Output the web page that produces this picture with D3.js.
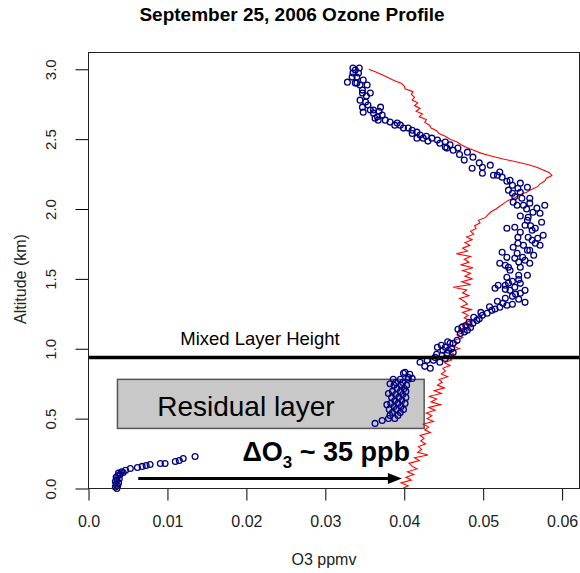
<!DOCTYPE html>
<html><head><meta charset="utf-8">
<script src="https://cdn.jsdelivr.net/npm/d3@7"></script>
<style>body{margin:0;background:#fff} svg{display:block;font-family:"Liberation Sans",Arial,sans-serif}</style>
</head><body><svg id="c" width="580" height="573"></svg>
<script>
// ---------- DATA ----------
const title = "September 25, 2006 Ozone Profile";
const xTicks = [0, 0.01, 0.02, 0.03, 0.04, 0.05, 0.06];
const xTickLabels = ["0.0", "0.01", "0.02", "0.03", "0.04", "0.05", "0.06"];
const yTicks = [0, 0.5, 1.0, 1.5, 2.0, 2.5, 3.0];
const yTickLabels = ["0.0", "0.5", "1.0", "1.5", "2.0", "2.5", "3.0"];

// red line profile (altitude km, O3 ppmv)
const lineAlt = [
 0.00,0.02,0.04,0.06,0.08,0.10,0.12,0.14,0.16,0.18,0.20,0.22,0.24,0.26,0.28,0.30,0.32,0.34,0.36,0.38,
 0.40,0.42,0.44,0.46,0.48,0.50,0.52,0.54,0.56,0.58,0.60,0.62,0.64,0.66,0.68,0.70,0.72,0.74,0.76,0.78,
 0.80,0.82,0.84,0.86,0.88,0.90,0.92,0.94,0.96,0.98,1.00,1.02,1.04,1.06,1.08,1.10,1.12,1.14,1.16,1.18,
 1.20,1.22,1.24,1.26,1.28,1.30,1.32,1.34,1.36,1.38,1.40,1.42,1.44,1.46,1.48,1.50,1.52,1.54,1.56,1.58,
 1.60,1.62,1.64,1.66,1.68,1.70,1.72,1.74,1.76,1.78,1.80,1.82,1.84,1.86,1.88,1.90,1.92,1.94,1.96,1.98,
 2.00,2.02,2.04,2.06,2.08,2.10,2.12,2.14,2.16,2.18,2.20,2.22,2.24,2.26,2.28,2.30,2.32,2.34,2.36,2.38,
 2.40,2.42,2.44,2.46,2.48,2.50,2.52,2.54,2.56,2.58,2.60,2.62,2.64,2.66,2.68,2.70,2.72,2.74,2.76,2.78,
 2.80,2.82,2.84,2.86,2.88,2.90,2.92,2.94,2.96,2.98,3.00];
const lineO3 = [
 0.0398,0.0405,0.0396,0.0409,0.0402,0.0412,0.0404,0.0416,0.0410,0.0406,0.0419,0.0413,0.0430,0.0417,0.0422,0.0418,0.0427,0.0421,0.0425,0.0420,
 0.0433,0.0426,0.0431,0.0424,0.0437,0.0429,0.0435,0.0428,0.0439,0.0431,0.0446,0.0434,0.0441,0.0432,0.0447,0.0438,0.0451,0.0442,0.0448,0.0444,
 0.0455,0.0447,0.0452,0.0449,0.0458,0.0451,0.0460,0.0455,0.0463,0.0458,0.0470,0.0462,0.0468,0.0463,0.0474,0.0467,0.0476,0.0470,0.0486,0.0473,
 0.0484,0.0476,0.0481,0.0474,0.0485,0.0472,0.0480,0.0476,0.0470,0.0482,0.0474,0.0479,0.0462,0.0484,0.0473,0.0486,0.0477,0.0484,0.0474,0.0487,
 0.0472,0.0482,0.0476,0.0484,0.0466,0.0480,0.0474,0.0483,0.0477,0.0486,0.0479,0.0488,0.0484,0.0491,0.0489,0.0496,0.0494,0.0503,0.0506,0.0510,
 0.0516,0.0521,0.0526,0.0531,0.0540,0.0545,0.0555,0.0561,0.0569,0.0572,0.0578,0.0580,0.0587,0.0584,0.0576,0.0567,0.0555,0.0540,0.0524,0.0510,
 0.0497,0.0488,0.0479,0.0472,0.0467,0.0458,0.0452,0.0444,0.0441,0.0434,0.0432,0.0426,0.0428,0.0419,0.0423,0.0415,0.0420,0.0413,0.0417,0.0410,
 0.0413,0.0409,0.0411,0.0401,0.0400,0.0396,0.0387,0.0380,0.0372,0.0364,0.0355];

// blue circles (altitude km, O3 ppmv)
const ptAlt = [
 0.000,0.010,0.020,0.030,0.040,0.050,0.060,0.070,0.080,0.090,0.100,0.110,0.120,
 0.115,0.130,0.143,0.150,0.158,0.165,0.172,0.179,0.179,0.193,0.200,0.215,0.229,
 0.466,0.487,0.501,0.501,0.523,0.523,0.544,0.544,0.566,0.566,0.566,0.587,0.587,0.609,0.609,0.609,0.630,0.630,0.652,0.652,0.652,0.673,0.673,0.695,0.695,0.695,0.716,0.716,0.738,0.738,0.738,0.759,0.759,0.781,0.781,0.781,0.600,0.680,0.750,
 0.795,0.788,0.817,0.824,0.831,0.860,0.874,0.903,0.917,0.917,0.903,0.938,0.953,0.967,0.974,0.989,0.989,1.010,1.010,1.039,1.039,1.060,0.960,1.000,1.025,1.050,0.930,
 1.110,1.132,1.153,1.153,1.182,1.203,1.239,1.254,1.275,1.297,1.311,1.325,1.332,1.354,1.361,1.375,1.397,1.418,1.418,1.433,1.440,1.454,1.454,1.468,1.483,
 1.120,1.140,1.165,1.190,1.215,1.225,1.260,1.285,1.300,1.318,1.340,1.390,1.425,1.470,1.495,
 1.511,1.526,1.526,1.562,1.583,1.583,1.597,1.612,1.612,1.633,1.647,1.654,1.654,1.669,1.683,1.691,1.705,1.705,1.620,
 1.726,1.741,1.755,1.755,1.777,1.798,1.798,1.812,1.834,1.848,1.862,1.862,1.870,1.884,1.740,1.790,1.880,
 1.905,1.920,1.941,1.970,1.977,2.006,2.027,2.027,2.027,2.042,2.049,2.077,2.077,1.950,2.000,2.090,
 2.113,2.120,2.149,2.156,2.170,2.185,2.199,2.206,2.228,2.242,2.242,2.256,2.264,2.292,2.299,2.314,2.135,
 2.371,2.407,2.436,2.436,2.443,2.471,2.479,2.493,2.507,2.507,2.507,2.529,2.550,2.330,2.350,2.390,2.420,2.460,2.486,2.520,2.540,
 2.564,2.579,2.579,2.600,2.600,2.622,2.636,2.636,2.650,2.672,2.729,2.615,2.660,2.700,
 2.686,2.708,2.708,2.693,2.744,2.729,2.765,2.779,2.808,2.830,2.830,2.851,
 2.887,2.923,2.901,2.908,2.901,2.887,2.944,2.944,2.973,2.973,3.009,3.009,2.994];
const ptO3 = [
 0.0036,0.0034,0.0037,0.0035,0.0038,0.0034,0.0036,0.0039,0.0035,0.0037,0.0040,0.0038,0.0042,
 0.0044,0.0047,0.0053,0.0062,0.0068,0.0073,0.0078,0.0091,0.0097,0.0110,0.0115,0.0120,0.0135,
 0.0363,0.0372,0.0380,0.0388,0.0382,0.0392,0.0385,0.0395,0.0381,0.0390,0.0399,0.0387,0.0396,0.0383,0.0392,0.0401,0.0388,0.0397,0.0384,0.0393,0.0402,0.0389,0.0398,0.0385,0.0395,0.0402,0.0391,0.0400,0.0387,0.0396,0.0403,0.0389,0.0398,0.0386,0.0395,0.0405,0.0378,0.0380,0.0382,
 0.0405,0.0410,0.0407,0.0399,0.0401,0.0433,0.0426,0.0420,0.0429,0.0437,0.0445,0.0439,0.0448,0.0454,0.0462,0.0449,0.0456,0.0442,0.0452,0.0458,0.0462,0.0467,0.0441,0.0460,0.0447,0.0455,0.0452,
 0.0471,0.0480,0.0473,0.0484,0.0487,0.0492,0.0499,0.0505,0.0511,0.0521,0.0530,0.0525,0.0553,0.0545,0.0528,0.0537,0.0547,0.0534,0.0553,0.0515,0.0540,0.0528,0.0519,0.0547,0.0537,
 0.0476,0.0468,0.0478,0.0482,0.0495,0.0488,0.0497,0.0515,0.0508,0.0537,0.0518,0.0541,0.0528,0.0532,0.0545,
 0.0530,0.0545,0.0556,0.0534,0.0547,0.0532,0.0528,0.0521,0.0559,0.0553,0.0540,0.0550,0.0530,0.0564,0.0543,0.0524,0.0556,0.0559,0.0545,
 0.0538,0.0572,0.0544,0.0566,0.0562,0.0557,0.0544,0.0576,0.0547,0.0562,0.0566,0.0530,0.0540,0.0553,0.0551,0.0569,0.0560,
 0.0574,0.0556,0.0557,0.0572,0.0563,0.0568,0.0543,0.0551,0.0578,0.0559,0.0538,0.0549,0.0559,0.0547,0.0555,0.0540,
 0.0537,0.0547,0.0544,0.0556,0.0537,0.0547,0.0530,0.0534,0.0524,0.0513,0.0518,0.0499,0.0521,0.0486,0.0499,0.0509,0.0532,
 0.0487,0.0480,0.0468,0.0454,0.0452,0.0445,0.0452,0.0442,0.0435,0.0424,0.0416,0.0420,0.0416,0.0495,0.0476,0.0470,0.0462,0.0458,0.0430,0.0428,0.0410,
 0.0410,0.0405,0.0399,0.0395,0.0388,0.0382,0.0376,0.0367,0.0363,0.0372,0.0370,0.0391,0.0366,0.0368,
 0.0361,0.0361,0.0357,0.0348,0.0354,0.0347,0.0351,0.0344,0.0352,0.0347,0.0357,0.0347,
 0.0353,0.0348,0.0340,0.0328,0.0338,0.0344,0.0334,0.0340,0.0335,0.0342,0.0335,0.0343,0.0338];

// annotations (data units)
const mixedLayerHeight = 0.938;
const residualBox = {x0: 0.00367, x1: 0.04252, y0: 0.430, y1: 0.781};
const arrowSpan = {x0: 0.0063, x1: 0.0397, y: 0.072};

// ---------- DRAW ----------
const svg = d3.select("#c");
const x = d3.scaleLinear().domain([0, 0.0622]).range([88.5, 579.5]);
const y = d3.scaleLinear().domain([0, 3.12]).range([488.5, 52.5]);

svg.append("text").attr("x", 292).attr("y", 21).attr("text-anchor", "middle")
  .attr("font-weight", "bold").attr("font-size", 19).attr("fill", "#000").text(title);

// residual layer box
svg.append("rect")
  .attr("x", x(residualBox.x0)).attr("y", y(residualBox.y1))
  .attr("width", x(residualBox.x1) - x(residualBox.x0))
  .attr("height", y(residualBox.y0) - y(residualBox.y1))
  .attr("fill", "#c8c8c8").attr("stroke", "#555").attr("stroke-width", 1.5);
svg.append("text").attr("x", x(0.0087)).attr("y", y(0.516))
  .attr("font-size", 28).attr("fill", "#000").text("Residual layer");

// red line
const pts = lineAlt.map((a, i) => [lineO3[i], a]);
svg.append("path").datum(pts)
  .attr("fill", "none").attr("stroke", "#ff0000").attr("stroke-width", 1.1)
  .attr("d", d3.line().x(d => x(d[0])).y(d => y(d[1])));

// circles
svg.append("g").selectAll("circle").data(ptAlt.map((a, i) => [ptO3[i], a])).join("circle")
  .attr("cx", d => x(d[0])).attr("cy", d => y(d[1])).attr("r", 2.9)
  .attr("fill", "none").attr("stroke", "#000080").attr("stroke-width", 1.3);

// mixed layer
svg.append("line").attr("x1", x(0)).attr("x2", 580)
  .attr("y1", y(mixedLayerHeight)).attr("y2", y(mixedLayerHeight))
  .attr("stroke", "#000").attr("stroke-width", 3.5);
svg.append("text").attr("x", x(0.01163)).attr("y", y(1.024))
  .attr("font-size", 18.5).attr("fill", "#000").text("Mixed Layer Height");

// delta O3 text
const dt = svg.append("text").attr("x", x(0.0195)).attr("y", y(0.20))
  .attr("font-size", 27).attr("font-weight", "bold").attr("fill", "#000");
dt.append("tspan").text("\u0394O");
dt.append("tspan").attr("font-size", 17).attr("dy", 7).text("3");
dt.append("tspan").attr("dy", -7).text(" ~ 35 ppb");

// arrow
const ax1 = x(arrowSpan.x1), ay = y(arrowSpan.y);
svg.append("line").attr("x1", x(arrowSpan.x0)).attr("x2", ax1 - 10)
  .attr("y1", ay).attr("y2", ay).attr("stroke", "#000").attr("stroke-width", 3);
svg.append("path").attr("d", `M${ax1},${ay}L${ax1 - 14},${ay - 5.5}L${ax1 - 14},${ay + 5.5}Z`).attr("fill", "#000");

// axes
const gx = svg.append("g").attr("transform", `translate(0,${y(0)})`)
  .call(d3.axisBottom(x).tickValues(xTicks).tickFormat((d, i) => xTickLabels[i]).tickSize(12).tickPadding(15));
gx.select(".domain").remove();
gx.selectAll("line").attr("stroke", "#000");
gx.selectAll("text").attr("font-size", 16).attr("fill", "#222").attr("font-family", "Liberation Sans, Arial, sans-serif");

const gy = svg.append("g").attr("transform", `translate(${x(0)},0)`)
  .call(d3.axisLeft(y).tickValues(yTicks).tickFormat((d, i) => yTickLabels[i]).tickSize(13));
gy.select(".domain").remove();
gy.selectAll("line").attr("stroke", "#000");
gy.selectAll("text").attr("font-size", 15).attr("fill", "#222")
  .attr("font-family", "Liberation Sans, Arial, sans-serif")
  .attr("transform", "rotate(-90)").attr("x", 0).attr("y", -33).attr("dy", 0)
  .attr("text-anchor", "middle");

// frame
svg.append("rect").attr("x", x(0)).attr("y", y(3.12))
  .attr("width", x(0.0622) - x(0)).attr("height", y(0) - y(3.12))
  .attr("fill", "none").attr("stroke", "#222").attr("stroke-width", 1);

// axis titles
svg.append("text").attr("x", 324).attr("y", 565).attr("text-anchor", "middle")
  .attr("font-size", 16).attr("fill", "#222").text("O3 ppmv");
svg.append("text").attr("transform", "translate(26,279) rotate(-90)").attr("text-anchor", "middle")
  .attr("font-size", 16).attr("fill", "#222").text("Altitude (km)");
</script></body></html>
